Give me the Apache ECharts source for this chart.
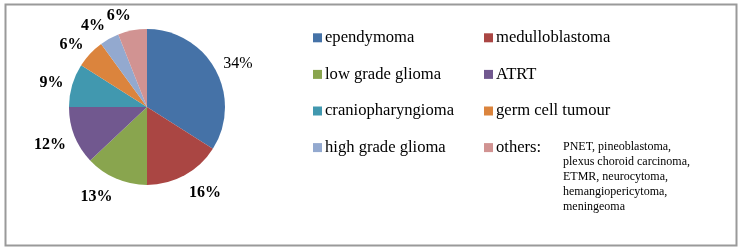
<!DOCTYPE html>
<html><head><meta charset="utf-8">
<script src="https://cdn.jsdelivr.net/npm/echarts@6/dist/echarts.min.js"></script>
<style>html,body{margin:0;padding:0;background:#fff;}#c{width:742px;height:251px;}</style>
</head><body><div id="c"></div>
<script>
var categories = ['ependymoma','medulloblastoma','low grade glioma','ATRT','craniopharyngioma','germ cell tumour','high grade glioma','others'];
var values = [34,16,13,12,9,6,4,6];
var colors = ['#4572A7','#AA4643','#89A54E','#71588F','#4198AF','#DB843D','#93A9CF','#D19392'];
var othersNote = ['PNET, pineoblastoma,','plexus choroid carcinoma,','ETMR, neurocytoma,','hemangiopericytoma,','meningeoma'];

var chart = echarts.init(document.getElementById('c'), null, {renderer:'canvas'});
var font = 'Liberation Serif';
var pieData = categories.map(function(n,i){
  return {name:n, value:values[i], itemStyle:{color:colors[i]},
    label:{fontWeight: i===0 ? 'normal' : 'bold'}};
});
chart.setOption({
  animation:false,
  textStyle:{fontFamily:font},
  legend:{
    left:308, top:23, width:360, orient:'horizontal',
    itemWidth:9, itemHeight:9, itemGap:17, icon:'rect',
    data:categories,
    formatter:function(n){return n==='others' ? 'others:' : n;},
    textStyle:{fontFamily:font, fontSize:16.6, fontWeight:'normal', color:'#000', width:142, lineHeight:19.6, padding:[0,0,0,-2]}
  },
  graphic:[
    {type:'rect', shape:{x:5.5,y:4.5,width:731,height:241}, style:{fill:'none', stroke:'#9a9a9a', lineWidth:2}, silent:true},
    {type:'text', left:563, top:139, style:{text:othersNote.join('\n'), font:'12px "Liberation Serif"', lineHeight:15, fill:'#000'}}
  ],
  series:[{
    type:'pie', center:[147,107], radius:78, startAngle:90, clockwise:true,
    avoidLabelOverlap:false,
    data:pieData,
    itemStyle:{borderWidth:0},
    label:{show:true, position:'outside', formatter:'{c}%', fontFamily:font, fontSize:16, color:'#000', distanceToLabelLine:0},
    labelLine:{show:true, length:9, length2:0, lineStyle:{color:'rgba(0,0,0,0)', width:0}},
    labelLayout:function(p){
      var pts = p.labelLinePoints;
      if(!pts) return {};
      var ux = pts[1][0]-pts[0][0], uy = pts[1][1]-pts[0][1];
      var L = Math.sqrt(ux*ux+uy*uy) || 1;
      return {dy: (uy/L) * p.labelRect.height/2 + 2.5};
    },
    emphasis:{disabled:true}
  }]
});
</script></body></html>
